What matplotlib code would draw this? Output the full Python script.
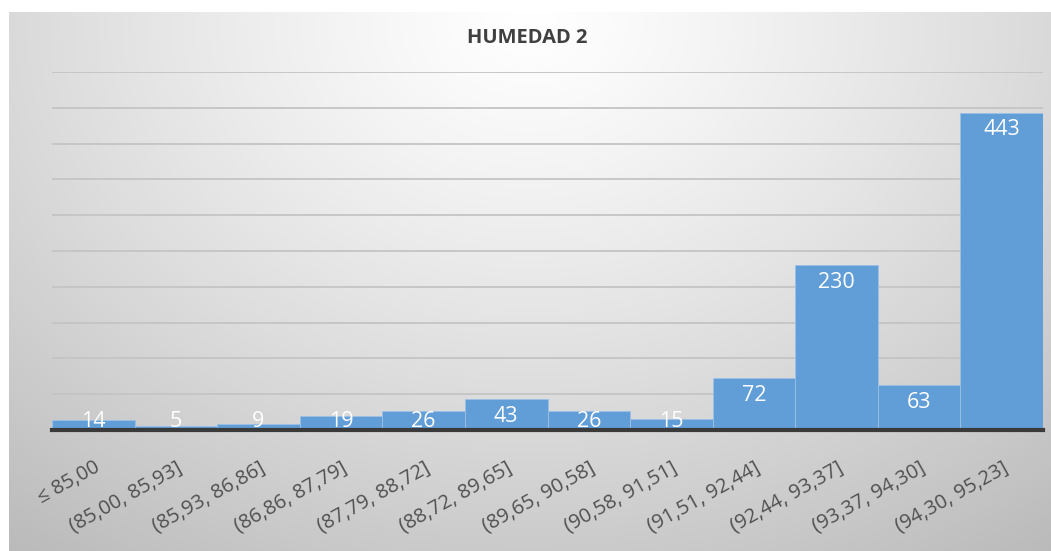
import numpy as np
import matplotlib.pyplot as plt

# histogram of humidity sensor 2
categories = ['≤ 85,00', '(85,00, 85,93]', '(85,93, 86,86]', '(86,86, 87,79]',
              '(87,79, 88,72]', '(88,72, 89,65]', '(89,65, 90,58]', '(90,58, 91,51]',
              '(91,51, 92,44]', '(92,44, 93,37]', '(93,37, 94,30]', '(94,30, 95,23]']
counts = [14, 5, 9, 19, 26, 43, 26, 15, 72, 230, 63, 443]

W, H = 1051, 551
fig = plt.figure(figsize=(W / 100, H / 100), dpi=100)
fig.patch.set_facecolor('white')

# gray radial gradient behind the chart area
bg = fig.add_axes([9 / W, 0, 1 - 9 / W, 1 - 12 / H])
bg.set_axis_off()
yy, xx = np.mgrid[0:540, 0:1042]
r = np.sqrt((xx - 520) ** 2 + ((yy - 10) * 1.3) ** 2)
r = r / r.max()
val = 1.0 - 0.27 * r ** 1.2
img = np.dstack([val, val, val])
bg.imshow(img, aspect='auto', interpolation='bilinear')

ax = fig.add_axes([52 / W, 1 - 430 / H, (1043 - 52) / W, (430 - 72) / H])
ax.set_facecolor('none')

x = np.arange(len(categories))
ax.bar(x, counts, width=1.0, color='#619dd6', edgecolor='#9cc1e6', linewidth=0.6, zorder=2)

ax.set_xlim(-0.5, len(categories) - 0.5)
ax.set_ylim(0, 500)
ax.set_yticks(np.arange(50, 501, 50))
ax.yaxis.grid(True, color='#c4c4c4', linewidth=1.3, zorder=0)
ax.set_axisbelow(True)
ax.tick_params(axis='y', left=False, labelleft=False)
ax.tick_params(axis='x', length=0, pad=20)
for s in ['top', 'right', 'left']:
    ax.spines[s].set_visible(False)
ax.spines['bottom'].set_color('#3a3a3a')
ax.spines['bottom'].set_linewidth(3)
ax.spines['bottom'].set_zorder(3)

ax.set_xticks(x)
ax.set_xticklabels(categories, rotation=29, ha='right', rotation_mode='anchor',
                   fontsize=14.5, color='#505050', family='Open Sans')

# value labels just inside the top of each bar
for xi, v in zip(x, counts):
    ax.text(xi, max(v - 24, 12.5), str(v), ha='center', va='center',
            color='white', fontsize=15.5, family='Open Sans', zorder=4)

fig.text(527 / W, 1 - 38 / H, 'HUMEDAD 2', ha='center', va='center',
         fontsize=14.5, fontweight='bold', color='#404040', family='Open Sans')

fig.savefig('out.png', dpi=100)
